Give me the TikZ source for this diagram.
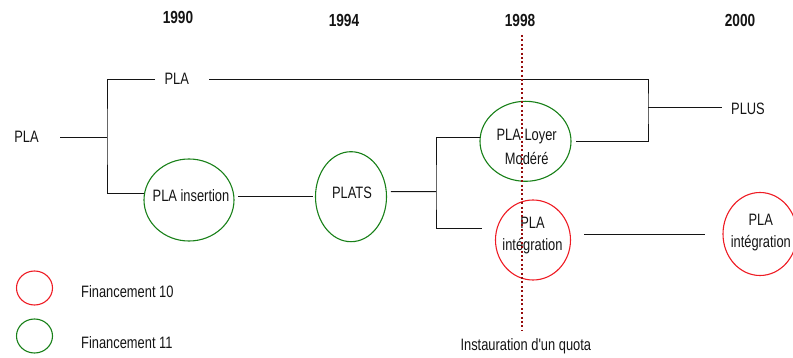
\documentclass[tikz,border=0pt]{standalone}
\usepackage{fontspec}
\setmainfont{Liberation Sans}[FakeStretch=0.78]
% same face without TeX ligature mapping, so ' stays a straight apostrophe
\newfontfamily\plainface{Liberation Sans}[FakeStretch=0.78]
\usetikzlibrary{shapes.geometric}

\definecolor{finA}{RGB}{238,28,36}
\definecolor{finB}{RGB}{24,128,24}
\definecolor{quotaline}{RGB}{150,12,12}
\definecolor{ink}{RGB}{20,20,20}

\tikzset{
  txt/.style={inner sep=0pt, text=ink, align=center},
  yearlbl/.style={txt, font=\fontsize{17.5}{20}\selectfont\bfseries},
  fin/.style={ellipse, draw, line width=1.1pt, inner sep=0pt},
  fin10/.style={fin, draw=finA},
  fin11/.style={fin, draw=finB},
  conn/.style={draw=ink, line width=0.9pt},
  quota/.style={draw=quotaline, line width=2pt, dash pattern=on 2pt off 2.4pt}
}

\begin{document}
\begin{tikzpicture}[x=1pt, y=-1pt, font=\fontsize{16.5}{22}\selectfont]
\useasboundingbox (0,0) rectangle (793,358);
\clip (0,0) rectangle (793,358);

% years
\node[yearlbl] (y90) at (178,17) {1990};
\node[yearlbl] (y94) at (344,20) {1994};
\node[yearlbl] (y98) at (520,20) {1998};
\node[yearlbl] (y00) at (740,20) {2000};

% funding ellipses
\node[fin11, minimum width=90pt, minimum height=82pt] (ins) at (189,200) {};
\node[fin11, minimum width=71pt, minimum height=90pt] (plats) at (351,196.7) {};
\node[fin11, minimum width=91pt, minimum height=80pt] (plm) at (525.5,141.3) {};
\node[fin10, minimum width=75pt, minimum height=80pt] (pli) at (533,240) {};
\node[fin10, minimum width=74pt, minimum height=83pt] (pli2) at (760,234) {};

% labels
\node[txt] (pla0) at (26.5,137) {PLA};
\node[txt] (platop) at (176.7,79) {PLA};
\node[txt] (plus) at (748,109) {PLUS};
\node[txt] (tins) at (191,196) {PLA insertion};
\node[txt] (tplats) at (352,192.7) {PLATS};
\node[txt, font=\fontsize{16.5}{24}\selectfont] (tplm) at (526.7,147) {PLA Loyer\\Modéré};
\node[txt] (tpli) at (532.5,236) {PLA\\intégration};
\node[txt] (tpli2) at (760.8,232.5) {PLA\\intégration};

% branch points
\coordinate (j1) at (107,137);
\coordinate (j3) at (648,107);
\coordinate (j5) at (436,191.7);

% connectors
\draw[conn, shorten <=33.5pt] (pla0.center) -- (j1);
\draw[conn, shorten <=21.7pt] (platop.center) -| (j1) |- (ins.172);
\draw[conn, shorten <=32.3pt, shorten >=4.7pt] (platop.center) -| (j3) |- (plm.east);
\draw[conn, shorten >=26.3pt] (j3) -- (j3 -| plus.center);
\draw[conn, shorten <=3.7pt, shorten >=2.4pt] (ins.east |- plats.center) -- (plats.west);
\draw[conn, shorten <=4pt] (plats.8) -- (j5);
\draw[conn, shorten >=15pt] (plm.175) -| (j5) |- (pli.162);
\draw[conn, shorten <=13.2pt, shorten >=17.3pt] (pli.east |- pli2.center) -- (pli2.west);

% quota marker
\node[txt, font=\plainface\fontsize{16.5}{22}\selectfont] (quotatxt) at (525.8,346.7) {Instauration d'un quota};
\coordinate (qtop) at (522,35);
\draw[quota, shorten >=8pt] (qtop) -- (qtop |- quotatxt.north);

% legend
\node[fin10, minimum width=36pt, minimum height=34pt] (leg10) at (34.5,288) {};
\node[fin11, minimum width=36pt, minimum height=34pt] (leg11) at (34.5,336) {};
\node[txt, anchor=west] (tleg10) at (81,291.7) {Financement 10};
\node[txt, anchor=west] (tleg11) at (81,343) {Financement 11};
\end{tikzpicture}
\end{document}
